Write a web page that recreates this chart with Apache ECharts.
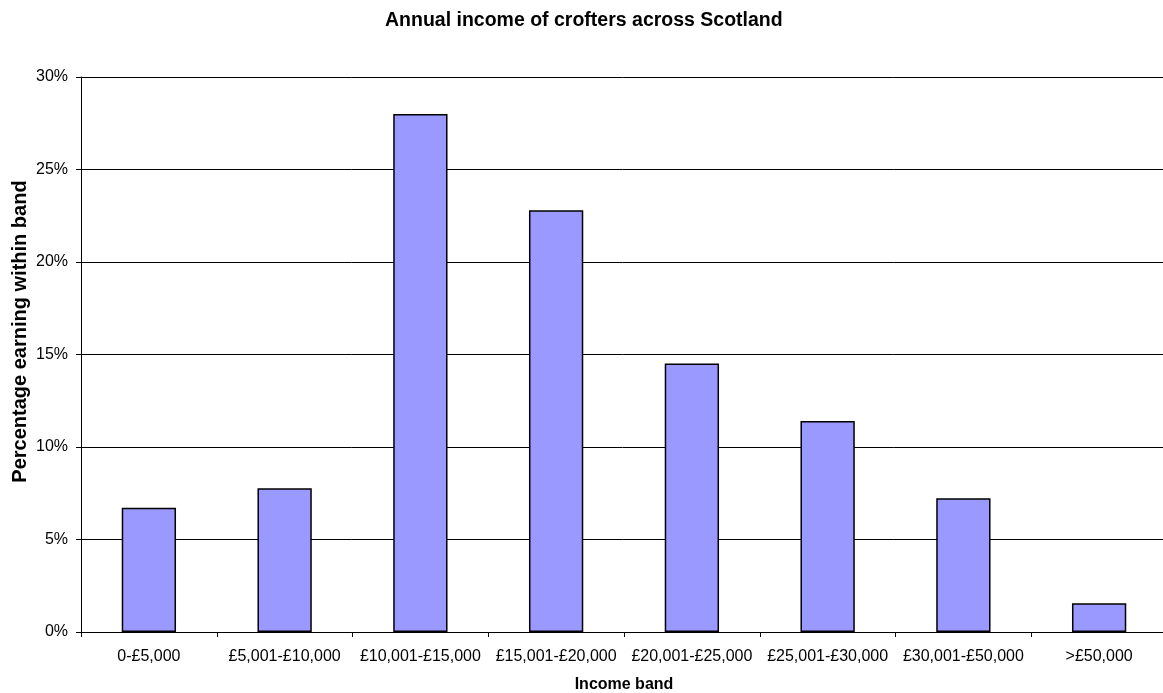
<!DOCTYPE html>
<html><head><meta charset="utf-8">
<script src="https://cdn.jsdelivr.net/npm/echarts@6/dist/echarts.min.js"></script>
<style>html,body{margin:0;padding:0;background:#fff}#c{width:1163px;height:693px}</style>
</head><body><div id="c"></div>
<script>
const categories = ['0-£5,000','£5,001-£10,000','£10,001-£15,000','£15,001-£20,000','£20,001-£25,000','£25,001-£30,000','£30,001-£50,000','>£50,000'];
const values = [6.72, 7.77, 28.0, 22.8, 14.52, 11.4, 7.23, 1.56];
const titleText = 'Annual income of crofters across Scotland';
const xName = 'Income band';
const yName = 'Percentage earning within band';
const font = 'Liberation Sans, Arial, sans-serif';
const chart = echarts.init(document.getElementById('c'));
chart.setOption({
  animation:false,
  title:{text:titleText,left:380,top:6,textStyle:{fontFamily:font,fontSize:19.5,fontWeight:'bold',color:'#000'}},
  grid:{left:81,right:-4,top:77,bottom:61,containLabel:false,outerBoundsMode:'none'},
  xAxis:{type:'category',data:categories,
    axisLine:{lineStyle:{color:'#000',width:1}},
    axisTick:{show:true,length:5,inside:false,lineStyle:{color:'#000'}},
    axisLabel:{fontFamily:font,fontSize:16,color:'#000',margin:17,interval:0},
    name:xName,nameLocation:'middle',nameGap:45,nameMoveOverlap:false,
    nameTextStyle:{fontFamily:font,fontSize:16,fontWeight:'bold',color:'#000'}},
  yAxis:{type:'value',min:0,max:30,interval:5,
    axisLine:{show:true,lineStyle:{color:'#000'}},
    axisTick:{show:true,length:5,lineStyle:{color:'#000'}},
    splitLine:{lineStyle:{color:'#000',width:1}},
    axisLabel:{fontFamily:font,fontSize:16,color:'#000',formatter:'{value}%',margin:13},
    name:yName,nameLocation:'middle',nameGap:51,nameMoveOverlap:false,
    nameTextStyle:{fontFamily:font,fontSize:20,fontWeight:'bold',color:'#000',padding:[0,0,0,46]}},
  series:[{type:'bar',data:values,barWidth:'40%',
    itemStyle:{color:'#9999ff',borderColor:'#000',borderWidth:1.5}}]
});
</script></body></html>
